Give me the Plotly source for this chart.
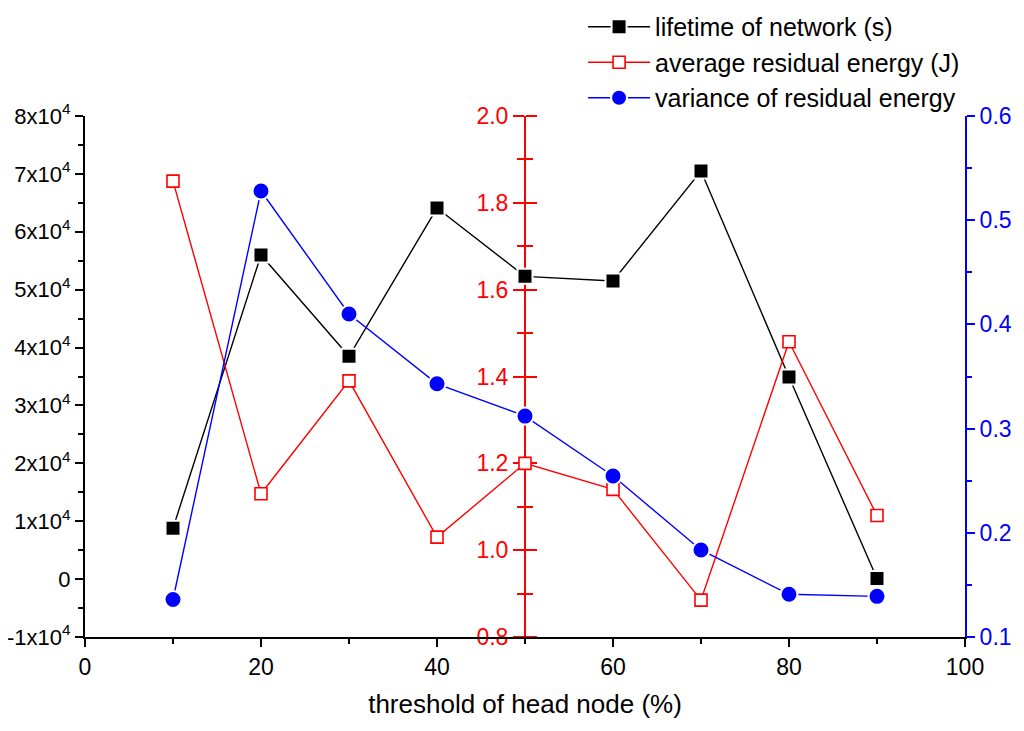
import plotly.graph_objects as go

threshold = [10, 20, 30, 40, 50, 60, 70, 80, 90]
lifetime = [8800, 56000, 38500, 64100, 52300, 51500, 70500, 34900, 100]
avg_energy = [1.85, 1.13, 1.39, 1.03, 1.20, 1.14, 0.885, 1.48, 1.08]
var_energy = [0.136, 0.528, 0.41, 0.343, 0.312, 0.2545, 0.1835, 0.141, 0.139]

left_vals = [-10000, 0, 10000, 20000, 30000, 40000, 50000, 60000, 70000, 80000]
left_text = ["-1x10<sup>4</sup>", "0", "1x10<sup>4</sup>", "2x10<sup>4</sup>", "3x10<sup>4</sup>",
             "4x10<sup>4</sup>", "5x10<sup>4</sup>", "6x10<sup>4</sup>", "7x10<sup>4</sup>", "8x10<sup>4</sup>"]
red_vals = [0.8, 1.0, 1.2, 1.4, 1.6, 1.8, 2.0]
red_text = ["0.8", "1.0", "1.2", "1.4", "1.6", "1.8", "2.0"]
blue_vals = [0.1, 0.2, 0.3, 0.4, 0.5, 0.6]
blue_text = ["0.1", "0.2", "0.3", "0.4", "0.5", "0.6"]
x_vals = [0, 20, 40, 60, 80, 100]

FONT = "Liberation Sans, Arial, sans-serif"
RED = "#ff0000"
BLUE = "#0000ff"

fig = go.Figure()
fig.add_trace(go.Scatter(x=threshold, y=lifetime, mode="lines+markers", name="lifetime of network (s)",
                         line=dict(color="black", width=1.4),
                         marker=dict(symbol="square", size=15, color="black", line=dict(color="white", width=2)),
                         yaxis="y"))
fig.add_trace(go.Scatter(x=threshold, y=avg_energy, mode="lines+markers", name="average residual energy (J)",
                         line=dict(color=RED, width=1.4),
                         marker=dict(symbol="square", size=12, color="white", line=dict(color=RED, width=1.6)),
                         yaxis="y2"))
fig.add_trace(go.Scatter(x=threshold, y=var_energy, mode="lines+markers", name="variance of residual energy",
                         line=dict(color=BLUE, width=1.4),
                         marker=dict(symbol="circle", size=17, color=BLUE, line=dict(color="white", width=2)),
                         yaxis="y3"))

fig.update_layout(
    width=1024, height=731,
    margin=dict(l=77, r=67, t=108, b=102, autoexpand=False),
    paper_bgcolor="white", plot_bgcolor="white",
    font=dict(family=FONT, size=23, color="black"),
    showlegend=True,
    legend=dict(x=0.566, y=1.215, xanchor="left", yanchor="top", bgcolor="rgba(0,0,0,0)",
                font=dict(size=25, color="black"), itemwidth=62, tracegroupgap=0),
    xaxis=dict(range=[0, 100], tickvals=x_vals, showline=True, linecolor="black",
               linewidth=2, ticks="outside", ticklen=8, tickwidth=2, tickcolor="black", automargin=False,
               minor=dict(dtick=10, tick0=0, ticks="outside", ticklen=5, tickwidth=2, tickcolor="black"),
               showgrid=False, zeroline=False, tickfont=dict(size=23),
               title=dict(text="threshold of head node (%)", font=dict(size=26), standoff=16)),
    yaxis=dict(range=[-10000, 80000], tickvals=left_vals, ticktext=left_text, showline=True,
               linecolor="black", linewidth=2, ticks="outside", ticklen=8, tickwidth=2, tickcolor="black",
               automargin=False,
               minor=dict(dtick=5000, tick0=0, ticks="outside", ticklen=5, tickwidth=2, tickcolor="black"),
               showgrid=False, zeroline=False, tickfont=dict(size=22)),
    yaxis2=dict(range=[0.8, 2.0], overlaying="y", side="left", anchor="free", position=0.5,
                tickvals=red_vals, ticktext=red_text,
                showline=True, linecolor=RED, linewidth=2, ticks="outside", ticklen=11, tickwidth=2,
                tickcolor=RED, layer="below traces", automargin=False,
                minor=dict(dtick=0.1, tick0=0.8, ticks="outside", ticklen=7, tickwidth=2, tickcolor=RED),
                showgrid=False, zeroline=False, tickfont=dict(size=23, color=RED)),
    yaxis4=dict(range=[0.8, 2.0], overlaying="y", side="right", anchor="free", position=0.5,
                tickvals=red_vals, showticklabels=False, automargin=False,
                showline=False, ticks="outside", ticklen=11, tickwidth=2, tickcolor=RED, layer="below traces",
                minor=dict(dtick=0.1, tick0=0.8, ticks="outside", ticklen=7, tickwidth=2, tickcolor=RED),
                showgrid=False, zeroline=False),
    yaxis3=dict(range=[0.1, 0.6], overlaying="y", side="right", anchor="x", automargin=False,
                tickvals=blue_vals, ticktext=blue_text,
                showline=True, linecolor=BLUE, linewidth=2, ticks="outside", ticklen=8, tickwidth=2,
                tickcolor=BLUE,
                minor=dict(dtick=0.05, tick0=0.1, ticks="outside", ticklen=5, tickwidth=2, tickcolor=BLUE),
                showgrid=False, zeroline=False, tickfont=dict(size=23, color=BLUE)),
)

# invisible trace to activate the crossing tick axis
fig.add_trace(go.Scatter(x=[None], y=[None], yaxis="y4", showlegend=False, hoverinfo="skip"))

fig.write_html("out.html")
